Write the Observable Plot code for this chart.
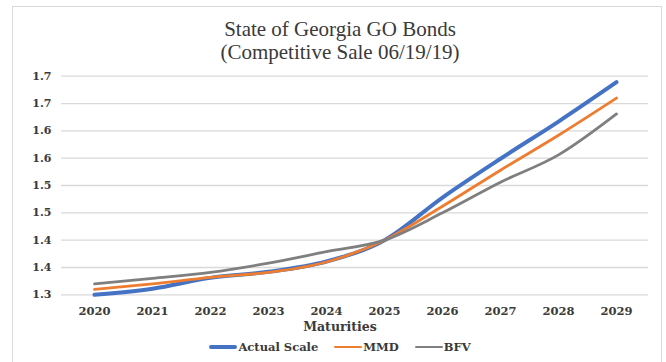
<!DOCTYPE html>
<html>
<head>
<meta charset="utf-8">
<script src="https://cdn.jsdelivr.net/npm/d3@7"></script>
<script src="https://cdn.jsdelivr.net/npm/@observablehq/plot@0.6"></script>
<style>
  html, body { margin: 0; padding: 0; background: #fff; }
  #wrap { position: relative; width: 666px; height: 362px; overflow: hidden; background: #fff; }
  #border { position: absolute; left: 12px; top: 6px; width: 650px; height: 400px; border: 1px solid #d9d9d9; box-sizing: border-box; }
  #title { position: absolute; left: 0; top: 18px; width: 680px; text-align: center; font-family: "Liberation Serif", serif; font-size: 21px; line-height: 22.5px; color: #3a3a3a; }
  #chart { position: absolute; left: 0; top: 60px; }
  #xlabel { position: absolute; left: 0; top: 318px; width: 680px; height: 18px; line-height: 18px; text-align: center; font-family: "DejaVu Serif", serif; font-weight: bold; font-size: 12.5px; color: #3a3a3a; }
  #legend { position: absolute; left: 0; top: 336px; width: 680px; height: 22px; display: flex; justify-content: center; align-items: center; font-family: "DejaVu Serif", serif; font-weight: bold; font-size: 11.5px; color: #3a3a3a; }
  .item { display: flex; align-items: center; margin: 0 8px; }
  .sw { display: inline-block; width: 28px; margin-right: 1px; border-radius: 2px; }
</style>
</head>
<body>
<div id="wrap">
  <div id="border"></div>
  <div id="title"></div>
  <div id="chart"></div>
  <div id="xlabel"></div>
  <div id="legend"></div>
</div>
<script>
const titleLines = ["State of Georgia GO Bonds", "(Competitive Sale 06/19/19)"];
const xAxisLabel = "Maturities";
const years = ["2020", "2021", "2022", "2023", "2024", "2025", "2026", "2027", "2028", "2029"];
const seriesNames = ["Actual Scale", "MMD", "BFV"];
const seriesColors = ["#4472C4", "#ED7D31", "#7F7F7F"];
const actualScale = [1.300, 1.311, 1.331, 1.342, 1.361, 1.400, 1.478, 1.549, 1.617, 1.689];
const mmd = [1.310, 1.320, 1.332, 1.341, 1.360, 1.400, 1.462, 1.528, 1.592, 1.660];
const bfv = [1.320, 1.330, 1.341, 1.358, 1.379, 1.400, 1.450, 1.506, 1.556, 1.631];
const yTicks = [1.30, 1.35, 1.40, 1.45, 1.50, 1.55, 1.60, 1.65, 1.70];
const yTickLabels = ["1.3", "1.4", "1.4", "1.5", "1.5", "1.6", "1.6", "1.7", "1.7"];

const seriesValues = [actualScale, mmd, bfv];
const seriesWidths = [4, 2.8, 2.8];
const tables = seriesNames.map((name, s) =>
  years.map((year, i) => ({year, value: seriesValues[s][i], series: name}))
);
const labelFor = d => {
  const i = yTicks.findIndex(t => Math.abs(t - d) < 1e-9);
  return i >= 0 ? yTickLabels[i] : "";
};

const chart = Plot.plot({
  width: 666,
  height: 258,
  marginLeft: 61,
  marginRight: 18,
  marginTop: 15.7,
  marginBottom: 23.7,
  style: {fontFamily: "DejaVu Serif", fontWeight: "bold", fontSize: "11px", color: "#3a3a3a", background: "transparent", overflow: "visible"},
  x: {type: "point", domain: years, padding: 0.5},
  y: {domain: [1.30, 1.70]},
  marks: [
    Plot.gridY(yTicks, {stroke: "#d9d9d9", strokeOpacity: 1, strokeWidth: 1.3}),
    Plot.axisY(yTicks, {tickSize: 0, tickPadding: 10, tickFormat: labelFor, label: null, fontSize: 11}),
    Plot.axisX({tickSize: 0, tickPadding: 12, label: null, fontSize: 11.5}),
    ...tables.map((t, s) => Plot.line(t, {
      x: "year", y: "value",
      stroke: seriesColors[s], strokeWidth: seriesWidths[s],
      curve: "monotone-x", strokeLinecap: "round", strokeLinejoin: "round"
    }))
  ]
});
document.getElementById("chart").appendChild(chart);

const title = document.getElementById("title");
titleLines.forEach(t => { const d = document.createElement("div"); d.textContent = t; title.appendChild(d); });
document.getElementById("xlabel").textContent = xAxisLabel;

const legend = document.getElementById("legend");
seriesNames.forEach((name, s) => {
  const item = document.createElement("span");
  item.className = "item";
  const sw = document.createElement("span");
  sw.className = "sw";
  sw.style.background = seriesColors[s];
  sw.style.height = seriesWidths[s] + "px";
  const lab = document.createElement("span");
  lab.textContent = name;
  item.appendChild(sw); item.appendChild(lab);
  legend.appendChild(item);
});
</script>
</body>
</html>
